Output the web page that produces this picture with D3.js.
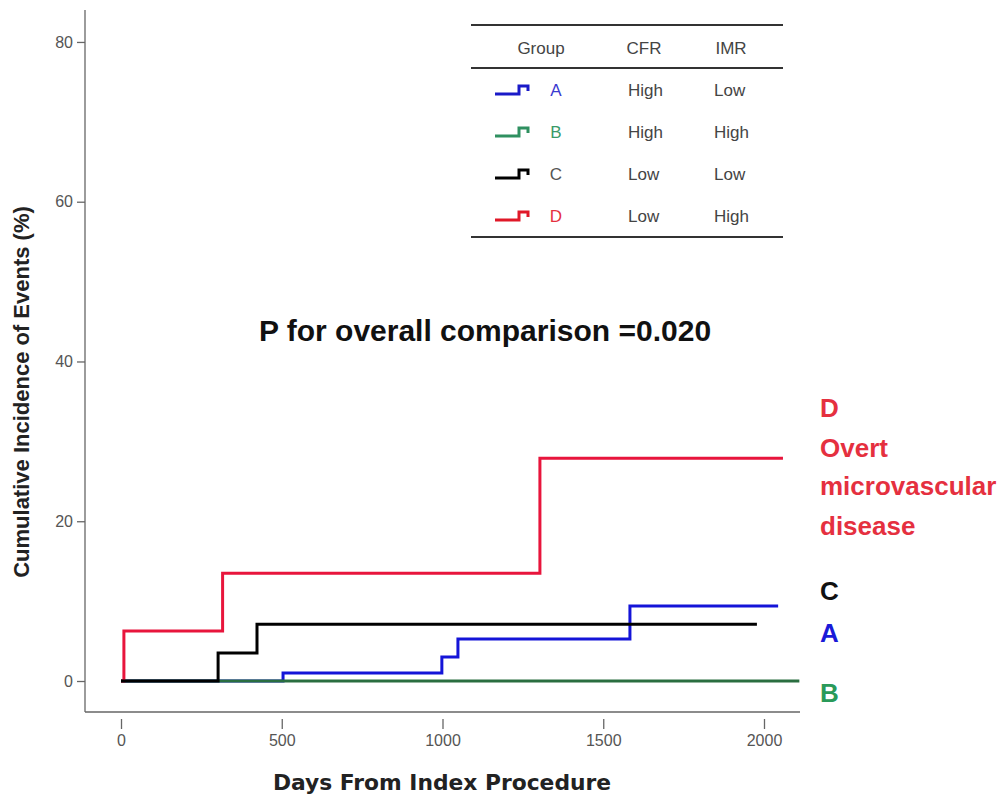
<!DOCTYPE html>
<html>
<head>
<meta charset="utf-8">
<script src="https://cdn.jsdelivr.net/npm/d3@7/dist/d3.min.js"></script>
<style>
  html, body { margin: 0; padding: 0; background: #fff; }
  svg { display: block; }
</style>
</head>
<body>
<svg id="chart" width="1000" height="798"></svg>
<script>
// Cumulative incidence (%) by follow-up day, step functions per group
const groupA_days = [0, 504, 998, 1048, 1583, 2044];
const groupA_pct  = [0, 1.0, 3.0, 5.25, 9.4, 9.4];
const groupB_days = [0, 2110];
const groupB_pct  = [0, 0];
const groupC_days = [0, 302, 423, 1978];
const groupC_pct  = [0, 3.5, 7.1, 7.1];
const groupD_days = [0, 9, 316, 1303, 2059];
const groupD_pct  = [0, 6.25, 13.5, 27.9, 27.9];

const xTicks = [0, 500, 1000, 1500, 2000];
const yTicks = [0, 20, 40, 60, 80];

const groupNames = ["A", "B", "C", "D"];
const cfrLevels  = ["High", "High", "Low", "Low"];
const imrLevels  = ["Low", "High", "Low", "High"];

const lineColors  = { A: "#1414d8", B: "#2a6e40", C: "#000000", D: "#e8153c" };
const labelColors = { A: "#3a3ad0", B: "#3a9a68", C: "#555555", D: "#e5303f" };
const iconColors  = { A: "#1a1ac8", B: "#2f9060", C: "#000000", D: "#e01828" };

const svg = d3.select("#chart");

const x = d3.scaleLinear().domain([-112, 2112]).range([85, 800]);
const y = d3.scaleLinear().domain([-3.88, 84]).range([712, 10]);

// Axes
const axisColor = "#666";
const xAxis = svg.append("g").attr("transform", "translate(0,719)")
  .call(d3.axisBottom(x).tickValues(xTicks).tickSize(10).tickPadding(6).tickFormat(d3.format("d")));
xAxis.select(".domain").remove();
const yAxis = svg.append("g").attr("transform", "translate(85,0)")
  .call(d3.axisLeft(y).tickValues(yTicks).tickSize(8).tickPadding(4));
yAxis.select(".domain").remove();
[xAxis, yAxis].forEach(g => {
  g.selectAll("line").attr("stroke", axisColor).attr("stroke-width", 1.3);
  g.selectAll("text").attr("fill", "#555").style("font-family", "Liberation Sans, Arial, sans-serif").style("font-size", "16px");
});
// axis frame lines (left and bottom)
svg.append("line").attr("x1", 85).attr("x2", 85).attr("y1", 10).attr("y2", 712)
  .attr("stroke", axisColor).attr("stroke-width", 1.3);
svg.append("line").attr("x1", 85).attr("x2", 800).attr("y1", 712).attr("y2", 712)
  .attr("stroke", axisColor).attr("stroke-width", 1.3);

// Step curves
const stepLine = d3.line().x(d => x(d[0])).y(d => y(d[1])).curve(d3.curveStepAfter);
const series = [
  { key: "A", days: groupA_days, pct: groupA_pct },
  { key: "B", days: groupB_days, pct: groupB_pct },
  { key: "D", days: groupD_days, pct: groupD_pct },
  { key: "C", days: groupC_days, pct: groupC_pct }
];
series.forEach(s => {
  svg.append("path")
    .datum(d3.zip(s.days, s.pct))
    .attr("d", stepLine)
    .attr("fill", "none")
    .attr("stroke", lineColors[s.key])
    .attr("stroke-width", 3)
    .attr("stroke-linejoin", "miter");
});

// Axis titles
svg.append("text")
  .attr("x", 442).attr("y", 790)
  .attr("text-anchor", "middle")
  .style("font-family", "DejaVu Sans, sans-serif").style("font-weight", "bold").style("font-size", "21.8px")
  .attr("fill", "#222")
  .text("Days From Index Procedure");
svg.append("text")
  .attr("transform", "translate(29,392) rotate(-90)")
  .attr("text-anchor", "middle")
  .style("font-family", "Liberation Sans, Arial, sans-serif").style("font-weight", "bold").style("font-size", "22px")
  .attr("fill", "#222")
  .text("Cumulative Incidence of Events (%)");

// Overall comparison annotation
svg.append("text")
  .attr("x", 485).attr("y", 341)
  .attr("text-anchor", "middle")
  .style("font-family", "Liberation Sans, Arial, sans-serif").style("font-weight", "bold").style("font-size", "30px")
  .attr("fill", "#111")
  .text("P for overall comparison =0.020");

// End-of-curve group labels
const endFont = { family: "Liberation Sans, Arial, sans-serif", size: "26px" };
const endLabels = [
  { t: "D", y: 417, c: labelColors.D },
  { t: "Overt", y: 457, c: labelColors.D },
  { t: "microvascular", y: 495, c: labelColors.D },
  { t: "disease", y: 535, c: labelColors.D },
  { t: "C", y: 600, c: "#111" },
  { t: "A", y: 642, c: "#1a1ad8" },
  { t: "B", y: 702, c: "#2a9a5a" }
];
endLabels.forEach(l => {
  svg.append("text").attr("x", 820).attr("y", l.y)
    .style("font-family", endFont.family).style("font-weight", "bold").style("font-size", endFont.size)
    .attr("fill", l.c).text(l.t);
});

// Legend table
const legend = svg.append("g");
[25, 68, 237].forEach(yy => {
  legend.append("line").attr("x1", 471).attr("x2", 783).attr("y1", yy).attr("y2", yy)
    .attr("stroke", "#333").attr("stroke-width", 2);
});
const legFont = "Liberation Sans, Arial, sans-serif";
[["Group", 541], ["CFR", 644], ["IMR", 731]].forEach(([t, cx]) => {
  legend.append("text").attr("x", cx).attr("y", 54).attr("text-anchor", "middle")
    .style("font-family", legFont).style("font-size", "17px").attr("fill", "#444").text(t);
});
const rowY = [90, 132, 174, 216];
groupNames.forEach((g, i) => {
  const cy = rowY[i];
  legend.append("path")
    .attr("d", `M495,${cy + 4}H519V${cy - 4}H528V${cy + 1}`)
    .attr("fill", "none").attr("stroke", iconColors[g]).attr("stroke-width", 3);
  legend.append("text").attr("x", 556).attr("y", cy + 6).attr("text-anchor", "middle")
    .style("font-family", legFont).style("font-size", "17px").attr("fill", labelColors[g]).text(g);
  legend.append("text").attr("x", 628).attr("y", cy + 6)
    .style("font-family", legFont).style("font-size", "17px").attr("fill", "#444").text(cfrLevels[i]);
  legend.append("text").attr("x", 714).attr("y", cy + 6)
    .style("font-family", legFont).style("font-size", "17px").attr("fill", "#444").text(imrLevels[i]);
});
</script>
</body>
</html>
